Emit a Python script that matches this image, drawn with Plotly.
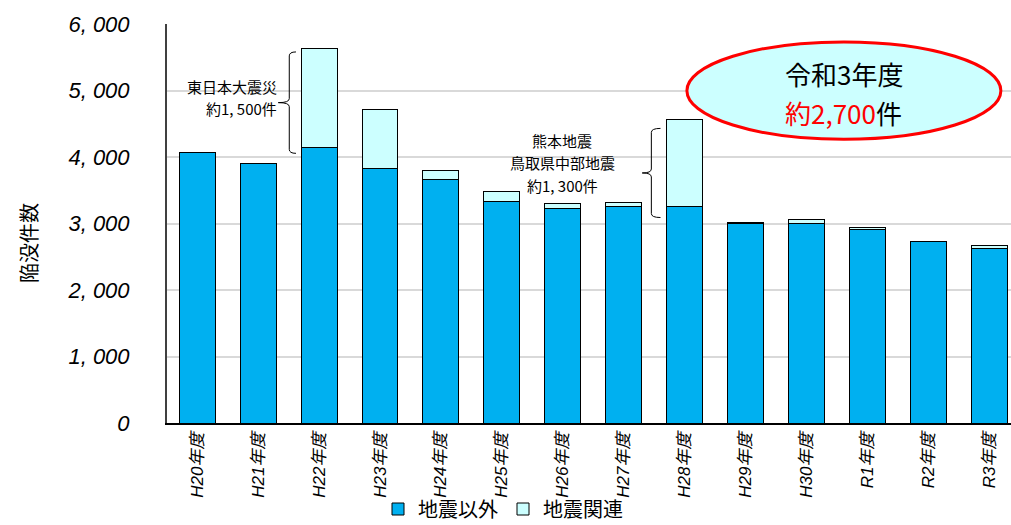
import plotly.graph_objects as go

# 年度別の陥没件数（地震以外／地震関連）
years = ["H20年度", "H21年度", "H22年度", "H23年度", "H24年度", "H25年度", "H26年度",
         "H27年度", "H28年度", "H29年度", "H30年度", "R1年度", "R2年度", "R3年度"]
non_quake = [4075, 3905, 4150, 3830, 3665, 3335, 3225, 3255, 3255, 3005, 2995, 2910, 2725, 2620]
quake_related = [0, 0, 1480, 885, 135, 150, 75, 55, 1310, 15, 60, 25, 10, 45]
y_ticks = [0, 1000, 2000, 3000, 4000, 5000, 6000]

y_tick_text = [f"{v:,}".replace(",", ", ") for v in y_ticks]
x_pos = list(range(len(years)))
totals = [a + b for a, b in zip(non_quake, quake_related)]

BLUE = "#00B0F0"
PALE = "#CCFFFF"
JP = "Noto Sans CJK JP"

fig = go.Figure()
fig.add_trace(go.Bar(x=x_pos, y=non_quake, name="地震以外", width=0.59,
                     marker=dict(color=BLUE, line=dict(color="#000000", width=1))))
fig.add_trace(go.Bar(x=x_pos, y=quake_related, name="地震関連", width=0.59,
                     marker=dict(color=PALE, line=dict(color="#000000", width=1))))


def brace(xb, y_bot, y_top, right, left, r):
    """Curly bracket opening to the right, with its point to the left."""
    ym = (y_bot + y_top) / 2
    return (f"M {xb + right},{y_top} Q {xb},{y_top} {xb},{y_top - r} "
            f"L {xb},{ym + r} Q {xb},{ym} {xb - left},{ym} "
            f"Q {xb},{ym} {xb},{ym - r} "
            f"L {xb},{y_bot + r} Q {xb},{y_bot} {xb + right},{y_bot}")


shapes = [
    dict(type="path", xref="x", yref="y",
         path=brace(1.51, 4055, 5580, 0.11, 0.18, 60),
         line=dict(color="#000000", width=1)),
    dict(type="path", xref="x", yref="y",
         path=brace(7.455, 3090, 4430, 0.15, 0.15, 60),
         line=dict(color="#000000", width=1)),
    # 令和3年度の吹き出し
    dict(type="circle", xref="paper", yref="paper",
         x0=0.616, x1=0.988, y0=0.711, y1=0.955,
         fillcolor=PALE, line=dict(color="#FF0000", width=3), layer="above"),
]

i22 = years.index("H22年度")
i28 = years.index("H28年度")
n1 = round(quake_related[i22] / 100) * 100
n2 = round(quake_related[i28] / 100) * 100
latest = round(totals[-1] / 100) * 100


def note(x, y, text, size, xanchor="center", xref="x", yref="y"):
    return dict(x=x, y=y, xref=xref, yref=yref, xanchor=xanchor, yanchor="middle",
                showarrow=False, text=text, borderpad=0,
                font=dict(family=JP, size=size, color="#000000"))


annotations = [
    # 東日本大震災
    note(1.33, 5053, "東日本大震災", 15, xanchor="right"),
    note(1.33, 4722, f"約{n1:,}件".replace(",", ", "), 15, xanchor="right"),
    # 熊本地震・鳥取県中部地震
    note(5.99, 4241, "熊本地震", 15),
    note(5.99, 3910, "鳥取県中部地震", 15),
    note(5.99, 3579, f"約{n2:,}件".replace(",", ", "), 15),
    # 吹き出しの文字
    note(0.802, (423 - 73) / 399, "令和3年度", 26, xref="paper", yref="paper"),
    note(0.802, (423 - 112) / 399,
         f"<span style='color:#FF0000'>約{latest:,}</span>件", 26,
         xref="paper", yref="paper"),
]
# 縦軸タイトル
annotations.append(dict(x=(28 - 167) / 844, y=(423 - 243) / 399, xref="paper", yref="paper",
                        xanchor="center", yanchor="middle", showarrow=False, textangle=-90,
                        text="陥没件数", font=dict(family=JP, size=20, color="#000000")))

fig.update_layout(
    width=1011, height=525,
    margin=dict(l=167, r=0, t=24, b=102),
    paper_bgcolor="#FFFFFF", plot_bgcolor="#FFFFFF",
    barmode="stack", bargap=0.41,
    showlegend=True,
    legend=dict(orientation="h", xref="container", yref="container",
                x=378 / 1011, y=(525 - 509) / 525, xanchor="left", yanchor="middle",
                font=dict(family=JP, size=20, color="#000000"),
                itemwidth=30, traceorder="normal", bgcolor="rgba(0,0,0,0)"),
    shapes=shapes,
    annotations=annotations,
    xaxis=dict(range=[-0.4975, 13.36], tickmode="array", tickvals=x_pos, ticktext=years,
               tickangle=-90, ticks="", showgrid=False, zeroline=False, automargin=False,
               showline=True, linecolor="#000000", linewidth=1.5,
               ticklabelstandoff=1,
               tickfont=dict(family="Liberation Sans, " + JP, size=17,
                             color="#000000", style="italic")),
    yaxis=dict(range=[0, 6000], tickmode="array", tickvals=y_ticks, ticktext=y_tick_text,
               ticks="", showgrid=True, gridcolor="#D9D9D9", gridwidth=1.5,
               zeroline=False, automargin=False,
               showline=True, linecolor="#404040", linewidth=2,
               ticklabelstandoff=31,
               tickfont=dict(family="Liberation Sans", size=22,
                             color="#000000", style="italic")),
)

fig.write_html("out.html")
